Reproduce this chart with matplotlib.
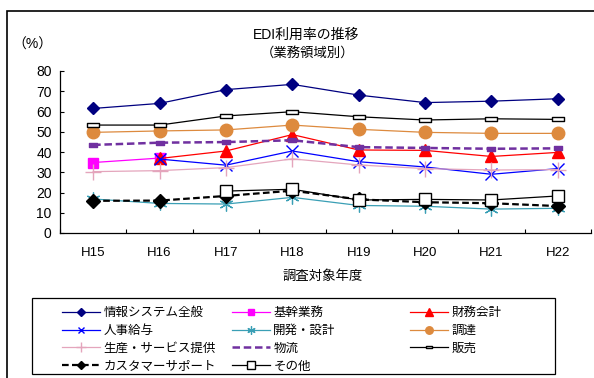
import numpy as np
import matplotlib.pyplot as plt
from matplotlib.path import Path
from matplotlib.patches import Rectangle

plt.rcParams['font.family'] = ['Liberation Sans', 'Noto Sans CJK JP']

# ----------------------
# Data (%)
# ----------------------
years = ['H15', 'H16', 'H17', 'H18', 'H19', 'H20', 'H21', 'H22']
nan = np.nan

info_sys  = [61.5, 64.0, 70.8, 73.4, 68.1, 64.4, 65.1, 66.3]
kikan     = [34.8, 37.0, nan, nan, nan, nan, nan, nan]
zaimu     = [nan, 36.8, 40.5, 48.6, 41.0, 40.8, 37.8, 39.8]
jinji     = [nan, 36.5, 33.5, 40.5, 35.2, 32.6, 29.0, 31.8]
kaihatsu  = [16.8, 14.6, 14.3, 17.6, 13.6, 13.2, 11.8, 12.2]
chotatsu  = [49.7, 50.4, 50.9, 53.3, 51.2, 49.7, 49.2, 49.2]
seisan    = [30.3, 30.8, 32.3, 36.6, 33.6, 31.8, 31.1, 31.3]
butsuryu  = [43.5, 44.6, 44.9, 45.8, 42.4, 42.0, 41.6, 41.8]
hanbai    = [53.3, 53.3, 57.8, 59.9, 57.4, 55.8, 56.4, 56.1]
customer  = [15.9, 16.0, 18.3, 20.9, 16.6, 15.2, 14.7, 13.3]
sonota    = [nan, nan, 20.7, 21.6, 16.3, 16.6, 16.3, 18.3]

# wide flat box marker used for 販売
flat_box = Path([(-1, -0.4), (1, -0.4), (1, 0.4), (-1, 0.4), (-1, -0.4)],
                [Path.MOVETO, Path.LINETO, Path.LINETO, Path.LINETO, Path.CLOSEPOLY])

W, H = 594, 378
fig = plt.figure(figsize=(W / 100, H / 100), dpi=100)
ax = fig.add_axes([60 / W, 145 / H, 531 / W, 162 / H])
x = np.arange(len(years))

ax.plot(x, info_sys, color='#000080', lw=0.9, marker='D', ms=6.5, label='情報システム全般')
ax.plot(x, kikan, color='#FF00FF', lw=0.9, marker='s', ms=7, label='基幹業務')
ax.plot(x, zaimu, color='#FF0000', lw=0.9, marker='^', ms=9, label='財務会計')
ax.plot(x, jinji, color='#0000FF', lw=0.9, marker='x', ms=8, mew=1, label='人事給与')
ax.plot(x, kaihatsu, color='#3A9FB5', lw=0.9, marker=(6, 2, 0), ms=10, mew=0.9, label='開発・設計')
ax.plot(x, chotatsu, color='#DD8A3E', lw=0.9, marker='o', ms=9, label='調達')
ax.plot(x, seisan, color='#E4A5BC', lw=0.9, marker='+', ms=11, mew=1, label='生産・サービス提供')
ax.plot(x, butsuryu, color='#7030A0', lw=1.8, ls=(0, (3, 1.5)), label='物流')
ax.plot(x, butsuryu, color='#7030A0', lw=0, marker=flat_box, ms=6)
ax.plot(x, hanbai, color='black', lw=0.9, marker=flat_box, ms=8, mfc='white', mec='black', mew=1, label='販売')
ax.plot(x, customer, color='black', lw=1.6, ls=(0, (3, 1.5)), marker='D', ms=7, label='カスタマーサポート')
ax.plot(x, sonota, color='black', lw=0.9, marker='s', ms=9, mfc='white', mec='black', mew=1, label='その他')

# ----------------------
# Axes styling
# ----------------------
ax.set_xlim(-0.5, len(years) - 0.5)
ax.set_ylim(0, 80)
ax.set_yticks(range(0, 81, 10))
ax.set_xticks(np.arange(-0.5, len(years), 1))
ax.set_xticklabels([])
ax.set_xticks(x, minor=True)
ax.set_xticklabels(years, minor=True)
ax.tick_params(axis='x', which='major', direction='in', length=3, width=0.8)
ax.tick_params(axis='x', which='minor', length=0, pad=10, labelsize=9.5)
ax.tick_params(axis='y', direction='in', length=3, width=0.8, pad=6, labelsize=10)
for side in ['top', 'right']:
    ax.spines[side].set_visible(False)
for side in ['left', 'bottom']:
    ax.spines[side].set_linewidth(0.9)

fig.text(306 / W, 1 - 35 / H, 'EDI利用率の推移', ha='center', va='center', fontsize=10)
fig.text(308 / W, 1 - 53 / H, '（業務領域別）', ha='center', va='center', fontsize=9.6)
fig.text(12 / W, 1 - 45 / H, '（%）', ha='left', va='center', fontsize=10)
fig.text(323 / W, 1 - 277 / H, '調査対象年度', ha='center', va='center', fontsize=9.6)

# outer chart frame
fig.patches.append(Rectangle((7 / W, -0.05), 1.0, 1.05 - 11 / H, transform=fig.transFigure,
                             fill=False, lw=1.2, ec='black'))

# legend box with three fixed-width columns, filled row by row
fig.patches.append(Rectangle((32 / W, 1 - 374 / H), 523 / W, 76 / H, transform=fig.transFigure,
                             fill=False, lw=0.9, ec='black'))
handles, labels = ax.get_legend_handles_labels()
col_x = [62, 232, 410]
for c, x0 in enumerate(col_x):
    idx = list(range(c, len(handles), 3))
    leg = fig.legend([handles[i] for i in idx], [labels[i] for i in idx],
                     loc='upper left', bbox_to_anchor=(x0 / W, 1 - 307 / H),
                     frameon=False, fontsize=9, handlelength=3, handletextpad=0.3,
                     markerscale=0.6, labelspacing=0.47, borderpad=0, borderaxespad=0)

fig.savefig('out.png', dpi=100)
